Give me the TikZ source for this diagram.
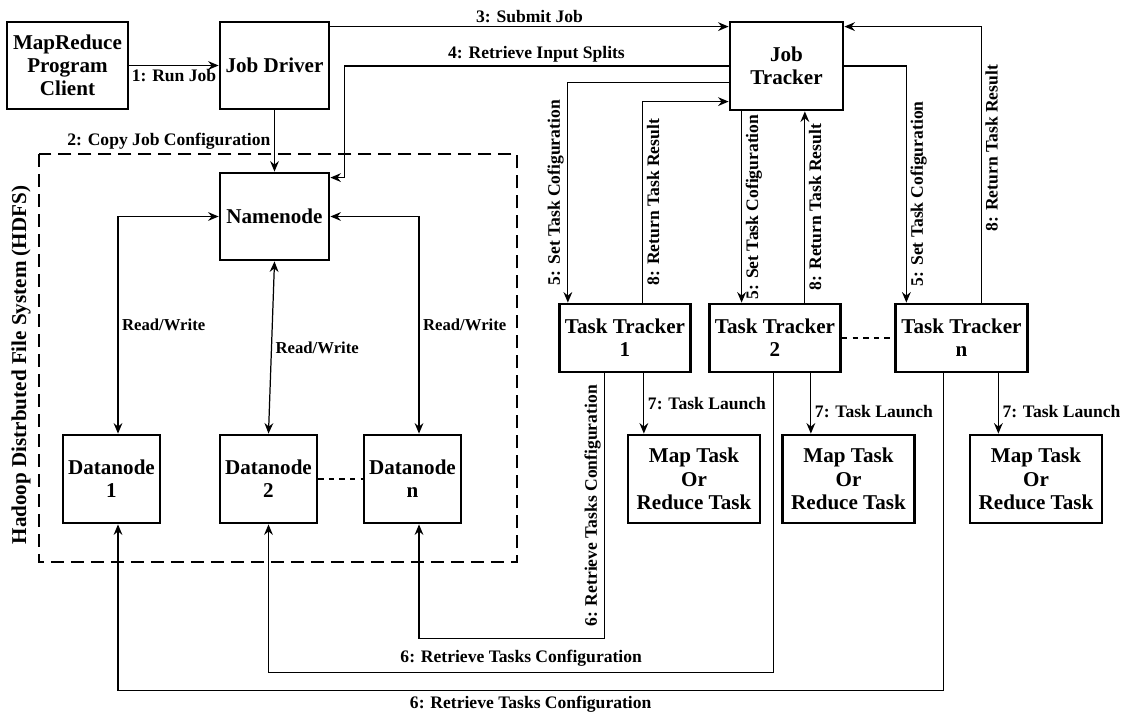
\documentclass[tikz,border=0pt]{standalone}
\usepackage{fontspec}
\setmainfont{Liberation Serif}
\usetikzlibrary{arrows.meta,calc}

\begin{document}
\begin{tikzpicture}[x=0.02cm,y=-0.02cm,
  box/.style={draw,line width=1.6pt,align=center,inner sep=1pt,font=\bfseries\fontsize{12}{13.2}\selectfont},
  conn/.style={line width=0.7pt,-{Stealth[length=6pt,width=5pt,inset=2pt]}},
  both/.style={line width=0.7pt,{Stealth[length=6pt,width=5pt,inset=2pt]}-{Stealth[length=6pt,width=5pt,inset=2pt]}},
  lab/.style={font=\bfseries\fontsize{10}{12}\selectfont,inner sep=2pt},
  rw/.style={font=\bfseries\fontsize{9.5}{11}\selectfont,inner sep=2pt},
  hdfsbox/.style={line width=1.6pt,dash pattern=on 0.26cm off 0.14cm}]
\useasboundingbox (0,0) rectangle (1125,716);

% client, driver and tracker
\node[box,minimum width=2.42cm,minimum height=1.74cm] (client) at (67.5,65.5) {MapReduce\\Program\\Client};
\node[box,minimum width=2.18cm,minimum height=1.74cm] (driver) at (274.5,65.5) {Job Driver};
\node[box,minimum width=2.26cm,minimum height=1.76cm] (jt) at (786.5,66) {Job\\Tracker};

% hdfs part
\draw[hdfsbox] (39,154) rectangle (517,562);
\node[font=\bfseries\fontsize{12}{14}\selectfont,rotate=90] (hdfslab) at (21,365) {Hadoop Distrbuted File System (HDFS)};
\node[box,minimum width=2.18cm,minimum height=1.74cm] (nn) at (274.5,216.5) {Namenode};
\foreach \n/\x in {1/111.5,2/268.5,n/412.5}
  \node[box,minimum width=1.94cm,minimum height=1.76cm] (dn\n) at (\x,479) {Datanode\\\n};
\draw[line width=0.7pt,dashed] (dn2) -- (dnn);

% task trackers and tasks
\foreach \n/\x in {1/625,2/775,n/961.5}
  \node[box,minimum width=2.63cm,minimum height=1.36cm] (tt\n) at (\x,338) {Task Tracker\\\n};
\draw[line width=0.7pt,dashed] (tt2) -- (ttn);
\foreach \n/\x in {1/694,2/848.5,n/1036}
  \node[box,minimum width=2.64cm,minimum height=1.76cm] (mt\n) at (\x,479) {Map Task\\Or\\Reduce Task};

% 1-4
\draw[conn] (client) -- (driver) node[lab,midway,below] {1: Run Job};
\draw[conn] (driver) -- (nn) node[lab,midway,left] {2: Copy Job Configuration};
\draw[conn] ($(driver.north east)+(0,6)$) coordinate (s3) -- (s3 -| jt.west) node[lab,midway,above] {3: Submit Job};
\draw[conn] (jt.west) -| ($(nn.north east)+(14,6)$) node[lab,pos=0.25,above] {4: Retrieve Input Splits}
  coordinate (c4) -- (c4 -| nn.east);

% read/write
\draw[both] (nn.west) -| ($(dn1.north)+(6.5,0)$) node[rw,pos=0.75,right] {Read/Write};
\draw[both] (nn.south) -- (dn2.north) node[rw,midway,right] {Read/Write};
\draw[both] (nn.east) -| ($(dnn.north)+(6.5,0)$) node[rw,pos=0.75,right] {Read/Write};

% 5 and 8
\draw[conn] ($(jt.north west)+(0,62)$) -| ($(tt1.north west)+(10,0)$)
  node[lab,pos=0.75,rotate=90,anchor=south] {5: Set Task Cofiguration};
\draw[conn] ($(tt1.north west)+(85,0)$) |- ($(jt.north west)+(0,81)$)
  node[lab,pos=0.25,rotate=90,anchor=north] {8: Return Task Result};
\draw[conn] ($(jt.south west)+(13,0)$) coordinate (j5) -- (j5 |- tt2.north)
  node[lab,midway,rotate=90,anchor=north] {5: Set Task Cofiguration};
\draw[conn] ($(tt2.north west)+(97,0)$) coordinate (t8) -- (t8 |- jt.south)
  node[lab,midway,rotate=90,anchor=north] {8: Return Task Result};
\draw[conn] (jt.east) -| ($(ttn.north west)+(12,0)$)
  node[lab,pos=0.77,rotate=90,anchor=north] {5: Set Task Cofiguration};
\draw[conn] ($(ttn.north west)+(87,0)$) |- ($(jt.north east)+(0,6)$)
  node[lab,pos=0.28,rotate=90,anchor=north] {8: Return Task Result};

% 7: task launch
\foreach \n/\d/\p in {1/86/0.5,2/103/0.63,n/104/0.63}
  \draw[conn] ($(tt\n.south west)+(\d,0)$) coordinate (t\n) -- (t\n |- mt\n.north)
    node[lab,pos=\p,right] {7: Task Launch};

% 6: retrieve tasks configuration
\draw[conn] ($(tt1.south west)+(47,0)$) -- ++(0,265) node[lab,midway,rotate=90,anchor=south] {6: Retrieve Tasks Configuration}
  -| ($(dnn.south)+(6.5,0)$);
\draw[conn] ($(tt2.south west)+(66,0)$) -- ++(0,299) -| (dn2.south)
  node[lab,pos=0.25,above=1pt] {6: Retrieve Tasks Configuration};
\draw[conn] ($(ttn.south west)+(49,0)$) -- ++(0,317) -| ($(dn1.south)+(6.5,0)$)
  node[lab,pos=0.25,below=1pt] {6: Retrieve Tasks Configuration};
\end{tikzpicture}
\end{document}
